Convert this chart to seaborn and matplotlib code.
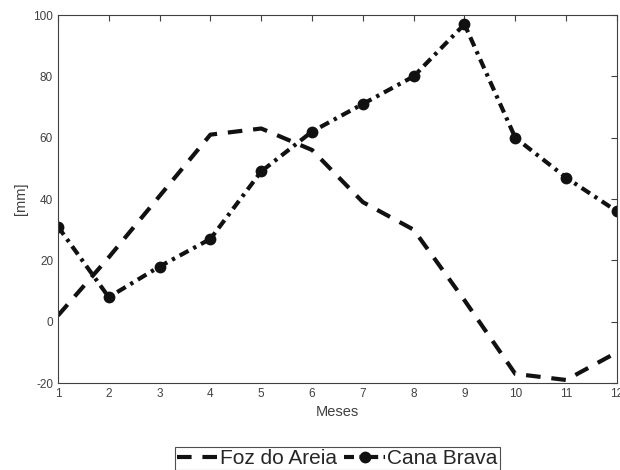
import numpy as np
import pandas as pd
import matplotlib
matplotlib.use("Agg")
import matplotlib.pyplot as plt
import seaborn as sns

# monthly values [mm]
meses = [1, 2, 3, 4, 5, 6, 7, 8, 9, 10, 11, 12]
foz_do_areia = [2, 21, 41, 61, 63, 56, 39, 30, 7, -17, -19, -10]
cana_brava = [31, 8, 18, 27, 49, 62, 71, 80, 97, 60, 47, 36]

df = pd.DataFrame({"Meses": meses, "Foz do Areia": foz_do_areia, "Cana Brava": cana_brava})

sns.set_style("white")
plt.rcParams['font.family'] = ['Liberation Sans', 'DejaVu Sans']
plt.rcParams['axes.unicode_minus'] = False

fig = plt.figure(figsize=(6.2, 4.7), dpi=100)
ax = fig.add_axes([0.0935, 0.185, 0.9015, 0.783])

sns.lineplot(data=df, x="Meses", y="Foz do Areia", ax=ax, color="#111111",
             linewidth=3, label="Foz do Areia")
ax.lines[-1].set_dashes([3.5, 2.6])
sns.lineplot(data=df, x="Meses", y="Cana Brava", ax=ax, color="#111111",
             linewidth=3, marker="o", markersize=8.5, markeredgewidth=0,
             label="Cana Brava")
ax.lines[-1].set_dashes([2.4, 1.3, 0.8, 1.3])

ax.set_xlim(1, 12)
ax.set_ylim(-20, 100)
ax.set_xticks(meses)
ax.set_yticks(np.arange(-20, 101, 20))
ax.set_xlabel("Meses", fontsize=10.5, color="#404040")
ax.set_ylabel("[mm]", fontsize=10.5, color="#404040")
ax.tick_params(direction="in", top=True, right=True, length=4, width=0.8,
               colors="#404040", labelsize=8.5)
for s in ax.spines.values():
    s.set_color("#404040")
    s.set_linewidth(0.8)

ax.get_legend().remove()
h, l = ax.get_legend_handles_labels()
leg = fig.legend(h, l, loc="lower center", bbox_to_anchor=(0.544, 0.0), ncol=2,
                 fontsize=15, frameon=True, fancybox=False, handlelength=2.0,
                 handletextpad=0.1, columnspacing=0.3, borderpad=0.1,
                 borderaxespad=0.0)
leg.get_frame().set_edgecolor("#222222")
leg.get_frame().set_linewidth(0.8)

fig.savefig("out.png", dpi=100)
